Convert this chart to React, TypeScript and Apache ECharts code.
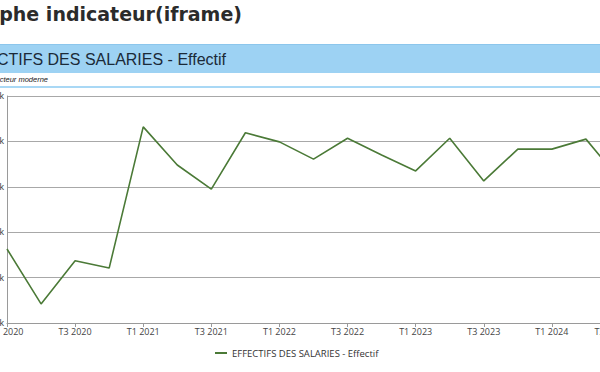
import React, { useEffect, useRef } from "react";
import * as echarts from "echarts";

const categories = [
  "T1 2020", "T2 2020", "T3 2020", "T4 2020",
  "T1 2021", "T2 2021", "T3 2021", "T4 2021",
  "T1 2022", "T2 2022", "T3 2022", "T4 2022",
  "T1 2023", "T2 2023", "T3 2023", "T4 2023",
  "T1 2024", "T2 2024", "T3 2024",
];
const effectif = [
  216.3, 204.2, 213.7, 212.1,
  243.2, 234.8, 229.5, 241.9,
  239.9, 236.1, 240.7, 237.0,
  233.5, 240.7, 231.3, 238.3,
  238.3, 240.5, 231.5,
];
const seriesName = "EFFECTIFS DES SALARIES - Effectif";
const pageTitle = "Graphe indicateur(iframe)";
const subTitle = "Secteur moderne";
const yMin = 200;
const yMax = 250;
const yInterval = 10;

export default function App() {
  const ref = useRef<HTMLDivElement>(null);
  useEffect(() => {
    if (!ref.current) return;
    const chart = echarts.init(ref.current, undefined, { renderer: "svg" });
    const lastIdx = categories.length - 1;
    chart.setOption({
      animation: false,
      backgroundColor: "#ffffff",
      graphic: [
        {
          type: "text",
          x: 242,
          y: 14,
          style: {
            text: pageTitle,
            font: "bold 19px 'DejaVu Sans'",
            fill: "#2b2b2b",
            align: "right",
            verticalAlign: "middle",
          },
        },
        {
          type: "rect",
          shape: { x: 0, y: 44, width: 600, height: 29 },
          style: { fill: "#9dd2f3" },
        },
        {
          type: "rect",
          shape: { x: 0, y: 44, width: 600, height: 1 },
          style: { fill: "#8cc6ec" },
        },
        {
          type: "text",
          x: 226,
          y: 59,
          style: {
            text: seriesName,
            font: "16px 'Liberation Sans'",
            fill: "#1b2a38",
            align: "right",
            verticalAlign: "middle",
          },
        },
        {
          type: "text",
          x: 48,
          y: 79,
          style: {
            text: subTitle,
            font: "italic 7.5px 'Liberation Sans'",
            fill: "#222",
            align: "right",
            verticalAlign: "middle",
          },
        },
        {
          type: "rect",
          shape: { x: 0, y: 86, width: 600, height: 2 },
          style: { fill: "#a9d8f5" },
        },
      ],
      legend: {
        data: [seriesName],
        left: 215,
        top: 348,
        padding: 0,
        icon: "rect",
        itemWidth: 12,
        itemHeight: 2,
        itemGap: 4,
        textStyle: { fontSize: 9.5, color: "#333", fontFamily: "'Open Sans'" },
      },
      grid: {
        left: 7,
        top: 96,
        width: 613,
        height: 227,
        containLabel: false,
        outerBoundsMode: "none",
      },
      xAxis: {
        type: "category",
        data: categories,
        boundaryGap: false,
        axisLine: { lineStyle: { color: "#9a9a9a", width: 1 } },
        axisTick: { interval: 1, length: 4, lineStyle: { color: "#9a9a9a" } },
        axisLabel: {
          interval: 1,
          fontSize: 9,
          color: "#444",
          margin: 4,
          fontFamily: "'Open Sans'",
          formatter: (v: string, i: number) =>
            i === lastIdx ? `{last|${v}}` : v,
          rich: {
            last: {
              fontSize: 9,
              color: "#444",
              fontFamily: "'Open Sans'",
              padding: [0, 18, 0, 0],
            },
          },
        },
        splitLine: { show: false },
      },
      yAxis: {
        type: "value",
        min: yMin,
        max: yMax,
        interval: yInterval,
        axisLine: { show: true, lineStyle: { color: "#9a9a9a" } },
        axisTick: { show: false },
        axisLabel: {
          fontSize: 9,
          color: "#444",
          margin: 3,
          formatter: (v: number) => `${v}k`,
        },
        splitLine: { lineStyle: { color: "#a8a8a8", width: 1 } },
      },
      series: [
        {
          name: seriesName,
          type: "line",
          data: effectif,
          showSymbol: false,
          symbol: "none",
          lineStyle: { color: "#4b7a37", width: 1.6 },
          itemStyle: { color: "#4b7a37" },
        },
      ],
    });
    return () => chart.dispose();
  }, []);
  return (
    <div
      ref={ref}
      style={{ position: "fixed", left: 0, top: 0, width: 600, height: 372 }}
    />
  );
}
